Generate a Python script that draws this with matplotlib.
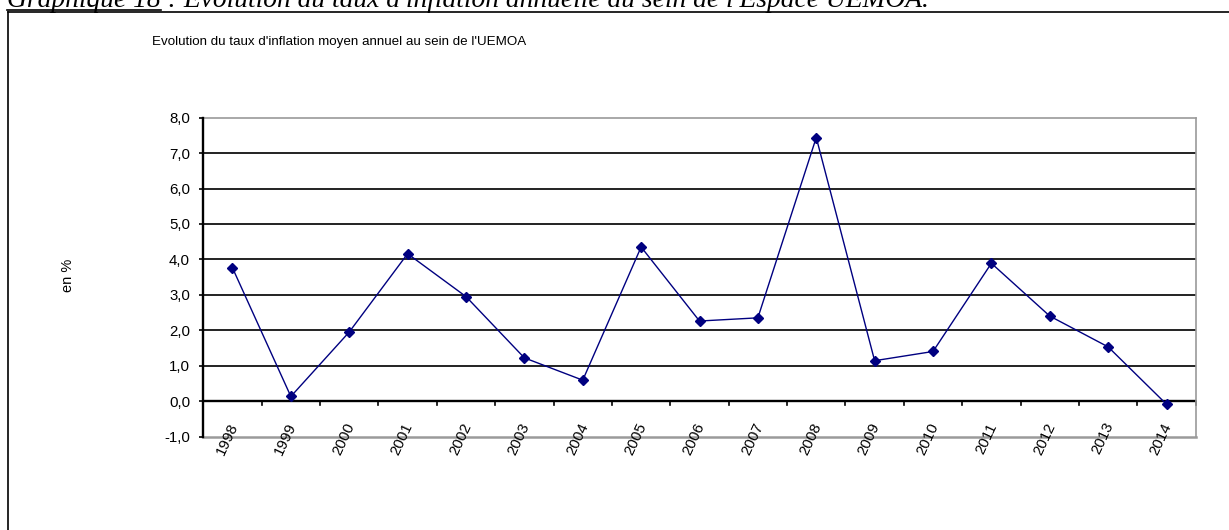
import matplotlib
matplotlib.use('Agg')
import matplotlib.pyplot as plt
from matplotlib.lines import Line2D
from matplotlib import font_manager

# -----------------------------------------------
# Data
# -----------------------------------------------
years = ['1998', '1999', '2000', '2001', '2002', '2003', '2004', '2005', '2006',
         '2007', '2008', '2009', '2010', '2011', '2012', '2013', '2014']
inflation = [3.76, 0.13, 1.95, 4.16, 2.95, 1.22, 0.59, 4.35, 2.26,
             2.35, 7.44, 1.14, 1.40, 3.89, 2.40, 1.53, -0.09]
y_ticks = [-1, 0, 1, 2, 3, 4, 5, 6, 7, 8]
y_tick_labels = ['-1,0', '0,0', '1,0', '2,0', '3,0', '4,0', '5,0', '6,0', '7,0', '8,0']

caption_a = "Graphique 18"
caption_b = " : Evolution du taux d'inflation annuelle au sein de l'Espace UEMOA."
title = "Evolution du taux d'inflation moyen annuel au sein de l'UEMOA"
y_label = "en %"

W, H = 1229, 530
names = {f.name for f in font_manager.fontManager.ttflist}
title_font = 'Liberation Sans Narrow' if 'Liberation Sans Narrow' in names else 'Liberation Sans'
title_size = 11.3 if title_font == 'Liberation Sans Narrow' else 9.6

fig = plt.figure(figsize=(W / 100, H / 100), dpi=100)

# -----------------------------------------------
# Caption above the frame (cut at the top, as in the page)
# -----------------------------------------------
cap1 = fig.text(7 / W, 1 - 7 / H, caption_a, fontfamily='Liberation Serif',
                style='italic', fontsize=19.8, va='baseline', ha='left')
fig.canvas.draw()
r = fig.canvas.get_renderer()
bb = cap1.get_window_extent(r)
fig.text(bb.x1 / W, 1 - 7 / H, caption_b, fontfamily='Liberation Serif',
         style='italic', fontsize=19.8, va='baseline', ha='left')
fig.add_artist(Line2D([bb.x0 / W, bb.x1 / W], [1 - 9.5 / H, 1 - 9.5 / H],
                      transform=fig.transFigure, color='black', lw=1.2))

# frame of the chart object
fig.add_artist(Line2D([8 / W, 1.0], [1 - 12 / H, 1 - 12 / H],
                      transform=fig.transFigure, color='black', lw=1.2))
fig.add_artist(Line2D([8 / W, 8 / W], [0, 1 - 12 / H],
                      transform=fig.transFigure, color='black', lw=1.2))

# titles
fig.text(152 / W, 1 - 42 / H, title, fontfamily=title_font, fontsize=title_size,
         va='center', ha='left')
fig.text(68 / W, 1 - 275 / H, y_label, fontfamily='Liberation Sans', fontsize=10.5,
         rotation=90, va='center', ha='center')

# -----------------------------------------------
# Plot area
# -----------------------------------------------
ax = fig.add_axes([203.3 / W, 1 - 436.5 / H, 992.4 / W, 318.8 / H])
x = list(range(len(years)))

for v in y_ticks[2:-1]:
    ax.axhline(v, color='#111111', lw=1.3, zorder=1)
ax.axhline(0, color='black', lw=1.7, zorder=2)

ax.plot(x, inflation, color='#000080', lw=1.0, marker='D', markersize=5.5,
        markerfacecolor='#000080', markeredgecolor='#000080', zorder=3, clip_on=False)

# tick marks on the zero line, between categories
for b in range(len(years)):
    ax.plot([b + 0.5, b + 0.5], [0, -0.12], color='black', lw=1.2, zorder=2,
            clip_on=False)

ax.set_xlim(-0.5, len(years) - 0.5)
ax.set_ylim(-1, 8)
ax.set_yticks(y_ticks)
ax.set_yticklabels(y_tick_labels, fontfamily='Liberation Sans', fontsize=10.8)
ax.tick_params(axis='y', direction='out', length=3, width=1.2, pad=6.5, colors='black')
ax.tick_params(axis='x', bottom=False, labelbottom=False)

for i, yr in enumerate(years):
    ax.text(i + 0.03, -0.63, yr, rotation=65, rotation_mode='anchor',
            ha='right', va='center', fontfamily='Liberation Sans', fontsize=10.8,
            clip_on=False)

ax.spines['left'].set_color('black')
ax.spines['left'].set_linewidth(1.7)
ax.spines['left'].set_zorder(4)
ax.spines['top'].set_color('#9a9a9a')
ax.spines['top'].set_linewidth(1.2)
ax.spines['right'].set_color('#9a9a9a')
ax.spines['right'].set_linewidth(1.2)
ax.spines['bottom'].set_color('#9a9a9a')
ax.spines['bottom'].set_linewidth(1.8)

plt.savefig('out.png', dpi=100)
